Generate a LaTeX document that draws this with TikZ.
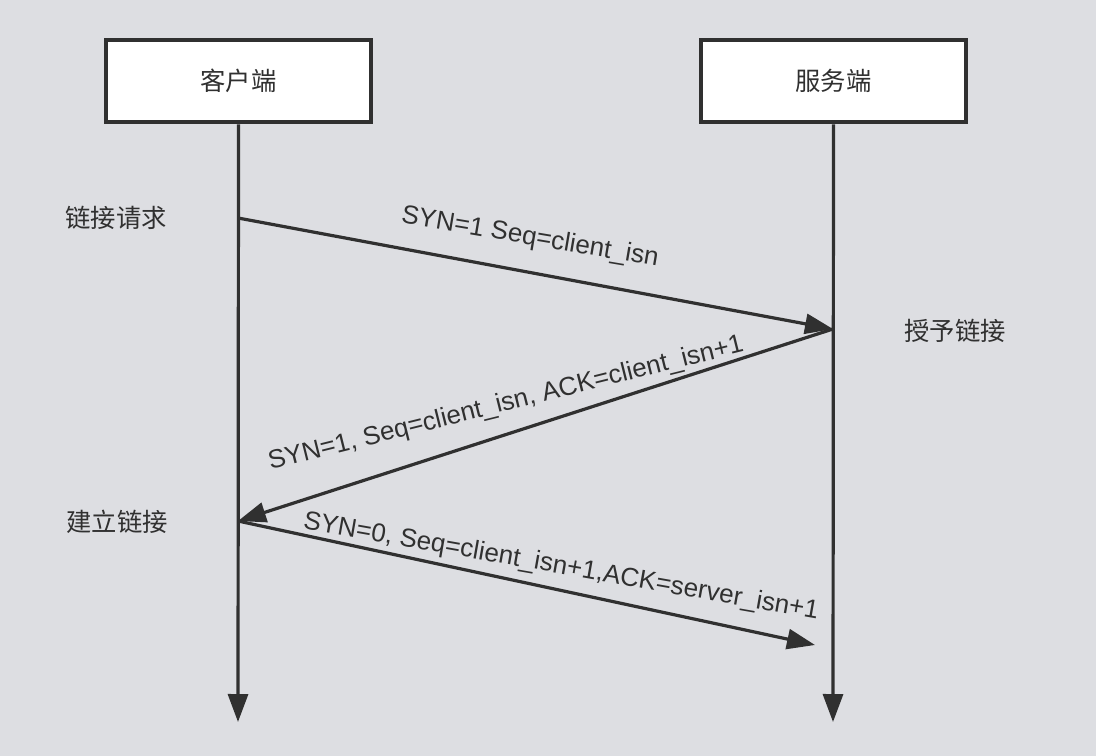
\documentclass[tikz,border=0pt]{standalone}
\usepackage{fontspec}
\setmainfont{Liberation Sans}
\newfontfamily\cjk{Noto Sans CJK SC}
\usetikzlibrary{arrows.meta}
\definecolor{bgcol}{HTML}{DDDEE2}
\definecolor{inkcol}{HTML}{303030}
\tikzset{
  party/.style={draw=inkcol,fill=white,line width=3pt,minimum width=199pt,minimum height=62pt,font=\cjk\fontsize{19}{22}\selectfont,text=inkcol},
  side/.style={font=\cjk\fontsize{19}{22}\selectfont,text=inkcol},
  msg/.style={font=\fontsize{19.5}{22}\selectfont,text=inkcol},
  wire/.style={draw=inkcol,line width=2.4pt,-{Triangle[length=21pt,width=15pt]}}
}
\begin{document}
\begin{tikzpicture}[x=0.75pt,y=-0.75pt]
  \fill[bgcol] (0,0) rectangle (1096,756);
  \useasboundingbox (0,0) rectangle (1096,756);
  \node[party] (client) at (238.5,81) {客户端};
  \node[party] (server) at (833.5,81) {服务端};
  \coordinate (cend) at (238,722);
  \coordinate (send) at (833,722);
  \coordinate (c1) at (238,218);
  \coordinate (s1) at (833,329);
  \coordinate (c2) at (238,521);
  \coordinate (s3) at (815,645);
  \node[side] (req) at (116,218) {链接请求};
  \node[side] (grant) at (955,331) {授予链接};
  \node[side] (est) at (117,522) {建立链接};
  \begin{scope}[wire]
    \draw (client.south) to (cend);
    \draw (server.south) to (send);
    \draw (c1) to (s1);
    \draw (s1) to (c2);
    \draw (c2) to (s3);
  \end{scope}
  \node[msg,rotate=-9.6] (m1) at (530,238) {SYN=1 Seq=client\_isn};
  \node[msg,rotate=14] (m2) at (506,404) {SYN=1, Seq=client\_isn, ACK=client\_isn+1};
  \node[msg,rotate=-10] (m3) at (561,567) {SYN=0, Seq=client\_isn+1,ACK=server\_isn+1};
\end{tikzpicture}
\end{document}
